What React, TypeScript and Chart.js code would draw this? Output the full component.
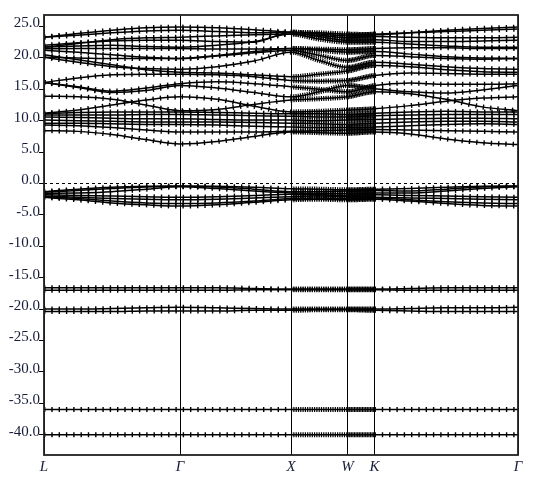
import React, { useEffect, useRef } from "react";
import { Chart, registerables } from "chart.js";

Chart.register(...registerables);

// k-path positions (arbitrary path units) of the sampled nodes
const kNodes = [0, 34, 68, 102, 136, 173, 210, 247, 275, 303.5, 330.5, 366, 402, 438, 474];
// high-symmetry points
const symPos = [0, 136, 247, 303.5, 330.5, 474];
const symLabels = ["L", "Γ", "X", "W", "K", "Γ"];
const yTickValues = [-40, -35, -30, -25, -20, -15, -10, -5, 0, 5, 10, 15, 20, 25];
const yMin = -43.23;
const yMax = 26.83;
const fermiLevel = 0;

// energies (eV) at kNodes: L . . . Γ . . X . W K . . . Γ
const conductionBands = [
  [8.4, 8.3, 7.8, 7.0, 6.3, 6.7, 7.5, 8.2, 8.1, 8.0, 8.2, 7.9, 7.1, 6.5, 6.2],
  [9.3, 9.2, 8.9, 8.5, 8.2, 8.2, 8.2, 8.3, 8.4, 8.5, 8.6, 8.5, 8.4, 8.3, 8.2],
  [9.6, 9.6, 9.5, 9.4, 9.4, 9.3, 9.1, 9.0, 8.9, 8.9, 9.0, 9.2, 9.4, 9.5, 9.4],
  [10.1, 10.0, 9.9, 9.8, 9.8, 9.8, 9.7, 9.6, 9.5, 9.4, 9.6, 9.8, 9.9, 9.9, 9.8],
  [10.6, 10.5, 10.4, 10.3, 10.3, 10.2, 10.1, 10.1, 10.0, 10.1, 10.2, 10.3, 10.4, 10.4, 10.3],
  [10.9, 10.9, 10.9, 11.0, 11.0, 10.9, 10.8, 10.7, 10.6, 10.6, 10.8, 10.9, 11.0, 11.0, 11.0],
  [11.1, 11.3, 11.4, 11.4, 11.4, 11.3, 11.2, 11.1, 11.1, 11.0, 11.2, 11.4, 11.5, 11.4, 11.4],
  [11.2, 11.7, 12.5, 13.3, 13.8, 13.4, 12.3, 11.4, 11.5, 11.7, 11.9, 12.4, 13.1, 13.6, 13.8],
  [13.9, 13.8, 13.4, 12.5, 11.6, 11.8, 12.6, 13.3, 13.5, 13.8, 14.6, 14.3, 13.4, 12.2, 11.6],
  [16.1, 15.3, 14.5, 14.8, 15.6, 15.2, 14.5, 13.8, 14.6, 15.6, 15.1, 14.6, 14.4, 14.9, 15.6],
  [16.1, 15.4, 14.7, 15.2, 15.9, 16.2, 15.9, 15.4, 15.0, 14.6, 15.6, 16.0, 15.8, 15.8, 15.9],
  [16.1, 16.8, 17.3, 17.4, 17.4, 17.3, 17.0, 16.4, 16.3, 16.4, 17.2, 17.6, 17.5, 17.4, 17.4],
  [20.5, 19.7, 18.9, 18.1, 17.7, 17.6, 17.3, 17.0, 17.4, 17.9, 18.8, 18.6, 18.1, 17.8, 17.7],
  [20.1, 19.3, 18.6, 18.3, 18.2, 18.6, 19.5, 20.9, 19.6, 18.5, 19.3, 19.0, 18.6, 18.3, 18.2],
  [21.2, 20.9, 20.5, 20.1, 19.9, 20.3, 20.8, 21.2, 20.4, 19.6, 20.4, 20.2, 19.9, 19.8, 19.9],
  [20.1, 20.0, 19.9, 19.9, 19.9, 20.4, 21.0, 21.5, 21.2, 20.9, 21.0, 20.6, 20.2, 20.0, 19.9],
  [21.45, 21.5, 21.5, 21.5, 21.5, 21.4, 21.4, 21.5, 21.4, 21.3, 21.5, 21.6, 21.6, 21.5, 21.5],
  [21.7, 21.9, 22.0, 21.8, 21.7, 22.0, 22.6, 23.8, 23.0, 22.5, 22.5, 22.2, 21.9, 21.7, 21.7],
  [22.0, 22.4, 22.7, 22.8, 22.8, 22.6, 22.5, 24.1, 23.4, 22.8, 22.9, 22.6, 22.6, 22.7, 22.8],
  [21.7, 22.3, 22.9, 23.2, 23.3, 23.5, 23.7, 23.8, 23.6, 23.2, 23.4, 23.3, 23.2, 23.2, 23.3],
  [23.3, 23.6, 24.0, 24.3, 24.4, 24.2, 24.0, 24.1, 23.8, 23.5, 23.8, 24.0, 24.2, 24.4, 24.6],
  [23.3, 23.9, 24.4, 24.8, 24.9, 24.8, 24.5, 24.1, 24.0, 23.8, 23.7, 24.0, 24.4, 24.7, 24.9],
];

const valenceBands = [
  [-1.3, -0.9, -0.6, -0.45, -0.4, -0.45, -0.6, -0.85, -0.9, -1.0, -0.9, -0.8, -0.6, -0.45, -0.4],
  [-1.4, -1.1, -0.8, -0.55, -0.45, -0.55, -0.9, -1.3, -1.3, -1.2, -1.1, -1.2, -0.9, -0.55, -0.45],
  [-1.6, -1.5, -1.3, -0.9, -0.5, -0.8, -1.2, -1.5, -1.6, -1.6, -1.5, -1.5, -1.2, -0.8, -0.5],
  [-1.8, -1.9, -2.0, -2.1, -2.2, -2.1, -1.9, -1.7, -1.8, -1.9, -1.8, -1.9, -2.0, -2.1, -2.2],
  [-2.0, -2.2, -2.4, -2.5, -2.6, -2.5, -2.3, -2.1, -2.0, -2.1, -2.2, -2.3, -2.4, -2.5, -2.6],
  [-2.1, -2.4, -2.8, -3.1, -3.2, -3.1, -2.8, -2.4, -2.3, -2.4, -2.3, -2.6, -2.9, -3.1, -3.2],
  [-2.2, -2.6, -3.1, -3.4, -3.6, -3.4, -3.0, -2.6, -2.5, -2.6, -2.5, -2.8, -3.2, -3.5, -3.6],
];

const semicoreBands = [
  [-16.6, -16.6, -16.6, -16.6, -16.6, -16.6, -16.7, -16.8, -16.8, -16.8, -16.8, -16.7, -16.6, -16.6, -16.6],
  [-17.0, -17.0, -17.0, -17.0, -17.0, -17.0, -16.9, -16.9, -16.9, -16.9, -16.9, -17.0, -17.0, -17.0, -17.0],
  [-20.0, -20.0, -19.9, -19.8, -19.7, -19.8, -19.9, -20.0, -20.0, -20.0, -20.0, -19.9, -19.8, -19.8, -19.7],
  [-20.4, -20.4, -20.4, -20.3, -20.3, -20.3, -20.2, -20.2, -20.1, -20.1, -20.2, -20.3, -20.4, -20.4, -20.4],
];

const coreBands = [
  [-36.0, -36.0, -36.0, -36.0, -36.0, -36.0, -36.0, -36.0, -36.0, -36.0, -36.0, -36.0, -36.0, -36.0, -36.0],
  [-40.0, -40.0, -40.0, -40.0, -40.0, -40.0, -40.0, -40.0, -40.0, -40.0, -40.0, -40.0, -40.0, -40.0, -40.0],
];

const LABEL_COLOR = "#171c38";
const FONT = "'Liberation Serif', 'Times New Roman', serif";

const markerDash = (ctx: any) => {
  const a = ctx.p0.parsed.x;
  const b = ctx.p1.parsed.x;
  if (a >= symPos[2] && b <= symPos[3]) return [1.2, 1.1];
  if (a >= symPos[3] && b <= symPos[4]) return [1.2, 0.4];
  return [1.4, 5.9];
};

const framePlugin = {
  id: "frame",
  afterDatasetsDraw(chart: any) {
    const { ctx, chartArea } = chart;
    ctx.save();
    ctx.strokeStyle = "#222";
    ctx.lineWidth = 1.8;
    ctx.strokeRect(chartArea.left, chartArea.top, chartArea.right - chartArea.left, chartArea.bottom - chartArea.top);
    ctx.restore();
  },
};

export default function App() {
  const ref = useRef<HTMLCanvasElement | null>(null);
  useEffect(() => {
    if (!ref.current) return;
    const allBands = [...coreBands, ...semicoreBands, ...valenceBands, ...conductionBands];
    const datasets: any[] = [];
    allBands.forEach((band) => {
      const pts = band.map((y, i) => ({ x: kNodes[i], y }));
      datasets.push({
        data: pts,
        borderColor: "#000",
        borderWidth: 1.5,
        pointRadius: 0,
        cubicInterpolationMode: "monotone",
        fill: false,
        clip: 0,
      });
      datasets.push({
        data: pts,
        borderColor: "#000",
        borderWidth: 5,
        borderDash: [1.4, 5.9],
        borderCapStyle: "butt",
        segment: { borderDash: markerDash },
        pointRadius: 0,
        cubicInterpolationMode: "monotone",
        fill: false,
        clip: 0,
      });
    });
    datasets.push({
      data: [
        { x: symPos[0], y: fermiLevel },
        { x: symPos[symPos.length - 1], y: fermiLevel },
      ],
      borderColor: "#000",
      borderWidth: 1,
      borderDash: [3, 3],
      pointRadius: 0,
      fill: false,
    });

    const chart = new Chart(ref.current, {
      type: "line",
      data: { datasets },
      options: {
        animation: false,
        responsive: false,
        maintainAspectRatio: false,
        layout: { padding: { left: 0, top: 15, right: 15, bottom: 0 } },
        plugins: { legend: { display: false }, tooltip: { enabled: false } },
        scales: {
          x: {
            type: "linear",
            min: symPos[0],
            max: symPos[symPos.length - 1],
            afterBuildTicks: (s: any) => {
              s.ticks = symPos.map((v) => ({ value: v }));
            },
            afterFit: (s: any) => {
              s.height = 28;
            },
            ticks: {
              autoSkip: false,
              maxRotation: 0,
              padding: 3,
              color: LABEL_COLOR,
              font: { family: FONT, size: 15, style: "italic" },
              callback: (_v: any, i: number) => symLabels[i],
            },
            grid: { color: "#000", lineWidth: 1, drawTicks: false },
            border: { display: false },
          },
          y: {
            type: "linear",
            min: yMin,
            max: yMax,
            afterBuildTicks: (s: any) => {
              s.ticks = yTickValues.map((v) => ({ value: v }));
            },
            afterFit: (s: any) => {
              s.width = 44;
            },
            ticks: {
              padding: -1,
              labelOffset: -3,
              color: LABEL_COLOR,
              font: { family: FONT, size: 15 },
              callback: (v: any) => Number(v).toFixed(1),
            },
            grid: { drawOnChartArea: false, drawTicks: true, tickLength: 5, color: "#000" },
            border: { display: false },
          },
        },
      },
      plugins: [framePlugin],
    });
    return () => chart.destroy();
  }, []);

  return (
    <div style={{ position: "fixed", left: 0, top: 0, width: 533, height: 483, background: "#fff" }}>
      <canvas ref={ref} width={533} height={483} style={{ display: "block" }} />
    </div>
  );
}
